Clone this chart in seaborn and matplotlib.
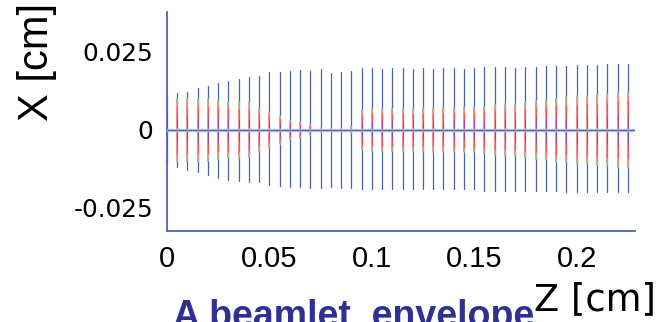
import pandas as pd
import numpy as np
import seaborn as sns
import matplotlib.pyplot as plt

# z positions of the envelope snapshots [cm]
z_cm = [0.000, 0.005, 0.010, 0.015, 0.020, 0.025, 0.030, 0.035, 0.040, 0.045,
        0.050, 0.055, 0.060, 0.065, 0.070, 0.075, 0.080, 0.085, 0.090, 0.095,
        0.100, 0.105, 0.110, 0.115, 0.120, 0.125, 0.130, 0.135, 0.140, 0.145,
        0.150, 0.155, 0.160, 0.165, 0.170, 0.175, 0.180, 0.185, 0.190, 0.195,
        0.200, 0.205, 0.210, 0.215, 0.220, 0.225]
# outer beamlet envelope (top / bottom) [cm]
env_top = [0.0106, 0.0119, 0.0122, 0.0135, 0.0141, 0.0151, 0.0157, 0.0163, 0.0170, 0.0173,
           0.0186, 0.0186, 0.0189, 0.0192, 0.0189, 0.0196, 0.0183, 0.0186, 0.0189, 0.0199,
           0.0199, 0.0196, 0.0199, 0.0199, 0.0196, 0.0199, 0.0196, 0.0199, 0.0199, 0.0196,
           0.0199, 0.0202, 0.0202, 0.0202, 0.0199, 0.0202, 0.0202, 0.0205, 0.0205, 0.0205,
           0.0208, 0.0208, 0.0208, 0.0211, 0.0211, 0.0211]
env_bot = [-0.0106, -0.0119, -0.0128, -0.0135, -0.0144, -0.0154, -0.0160, -0.0163, -0.0167, -0.0167,
           -0.0176, -0.0180, -0.0183, -0.0183, -0.0186, -0.0186, -0.0183, -0.0186, -0.0186, -0.0189,
           -0.0189, -0.0189, -0.0190, -0.0189, -0.0190, -0.0189, -0.0190, -0.0189, -0.0190, -0.0190,
           -0.0190, -0.0195, -0.0195, -0.0195, -0.0195, -0.0195, -0.0195, -0.0195, -0.0195, -0.0200,
           -0.0200, -0.0200, -0.0200, -0.0200, -0.0200, -0.0200]
# half width of the inner (core) particles [cm]
core_half = [0.0100, 0.0100, 0.0100, 0.0100, 0.0100, 0.0092, 0.0090, 0.0090, 0.0087, 0.0070,
             0.0057, 0.0045, 0.0030, 0.0026, 0.0016, 0.0006, 0.0003, 0.0005, 0.0010, 0.0064,
             0.0066, 0.0068, 0.0068, 0.0069, 0.0069, 0.0070, 0.0070, 0.0070, 0.0071, 0.0072,
             0.0072, 0.0075, 0.0080, 0.0082, 0.0083, 0.0090, 0.0093, 0.0096, 0.0102, 0.0104,
             0.0108, 0.0110, 0.0112, 0.0115, 0.0118, 0.0122]

xticks = [0, 0.05, 0.1, 0.15, 0.2]
xtick_labels = ["0", "0.05", "0.1", "0.15", "0.2"]
yticks = [-0.025, 0, 0.025]
ytick_labels = ["-0.025", "0", "0.025"]

blue = "#4a64b4"
navy = "#2e3192"


def segments(lo, hi):
    rows = []
    for i, z in enumerate(z_cm):
        rows.append((z, lo[i], i))
        rows.append((z, hi[i], i))
    return pd.DataFrame(rows, columns=["z", "x", "seg"])


core = np.array(core_half)
sns.set_style("white")
plt.rcParams["text.color"] = "black"

fig = plt.figure(figsize=(6.61, 3.22), dpi=100)
ax = fig.add_axes([0.2526, 0.2826, 0.7081, 0.6801])

layers = [
    (segments(env_bot, env_top), "#4562b4", 0.9),
    (segments(-core, core), "#86cc86", 1.3),
    (segments(-0.9 * core, 0.9 * core), "#ff8a8a", 1.3),
    (segments(-0.75 * core, 0.75 * core), "#ff4848", 0.6),
    (segments(-0.4 * core, 0.4 * core), "#8e4ea0", 0.7),
]
for df, col, lw in layers:
    sns.lineplot(data=df, x="z", y="x", units="seg", estimator=None, sort=False,
                 color=col, linewidth=lw, ax=ax, legend=False)

ax.axhline(0, color="#bcc6e2", linewidth=2.4, zorder=3)
ax.axhline(0, color="#5566aa", linewidth=0.9, zorder=4)

ax.set_xlim(0, 0.2285)
ax.set_ylim(-0.0324, 0.0378)
ax.set_xlabel("")
ax.set_ylabel("")

for s in ["top", "right"]:
    ax.spines[s].set_visible(False)
for s in ["left", "bottom"]:
    ax.spines[s].set_color(blue)
    ax.spines[s].set_linewidth(1.3)

ax.set_xticks(xticks)
ax.set_xticklabels(xtick_labels, family="Liberation Sans", fontsize=21)
ax.set_yticks(yticks)
ax.set_yticklabels(ytick_labels, family="DejaVu Sans", fontsize=17.8)
ax.tick_params(axis="x", direction="in", length=9.4, width=1.0, color=blue, labelcolor="black", pad=10)
ax.tick_params(axis="y", direction="in", length=11.5, width=1.0, color=blue, labelcolor="black", pad=10)

fig.text(37 / 661, 1 - 62 / 322, "X [cm]", rotation=90, ha="center", va="center",
         family="Liberation Sans", fontsize=30, color="black")
fig.text(595 / 661, 1 - 310 / 322, "Z [cm]", ha="center", va="baseline",
         family="DejaVu Sans", fontsize=26.6, color="black")
fig.text(173 / 661, 1 - 327 / 322, "A beamlet  envelope", ha="left", va="baseline",
         family="Liberation Sans", fontweight="bold", fontsize=27, color=navy)

plt.savefig("out.png", dpi=100)
plt.close()
